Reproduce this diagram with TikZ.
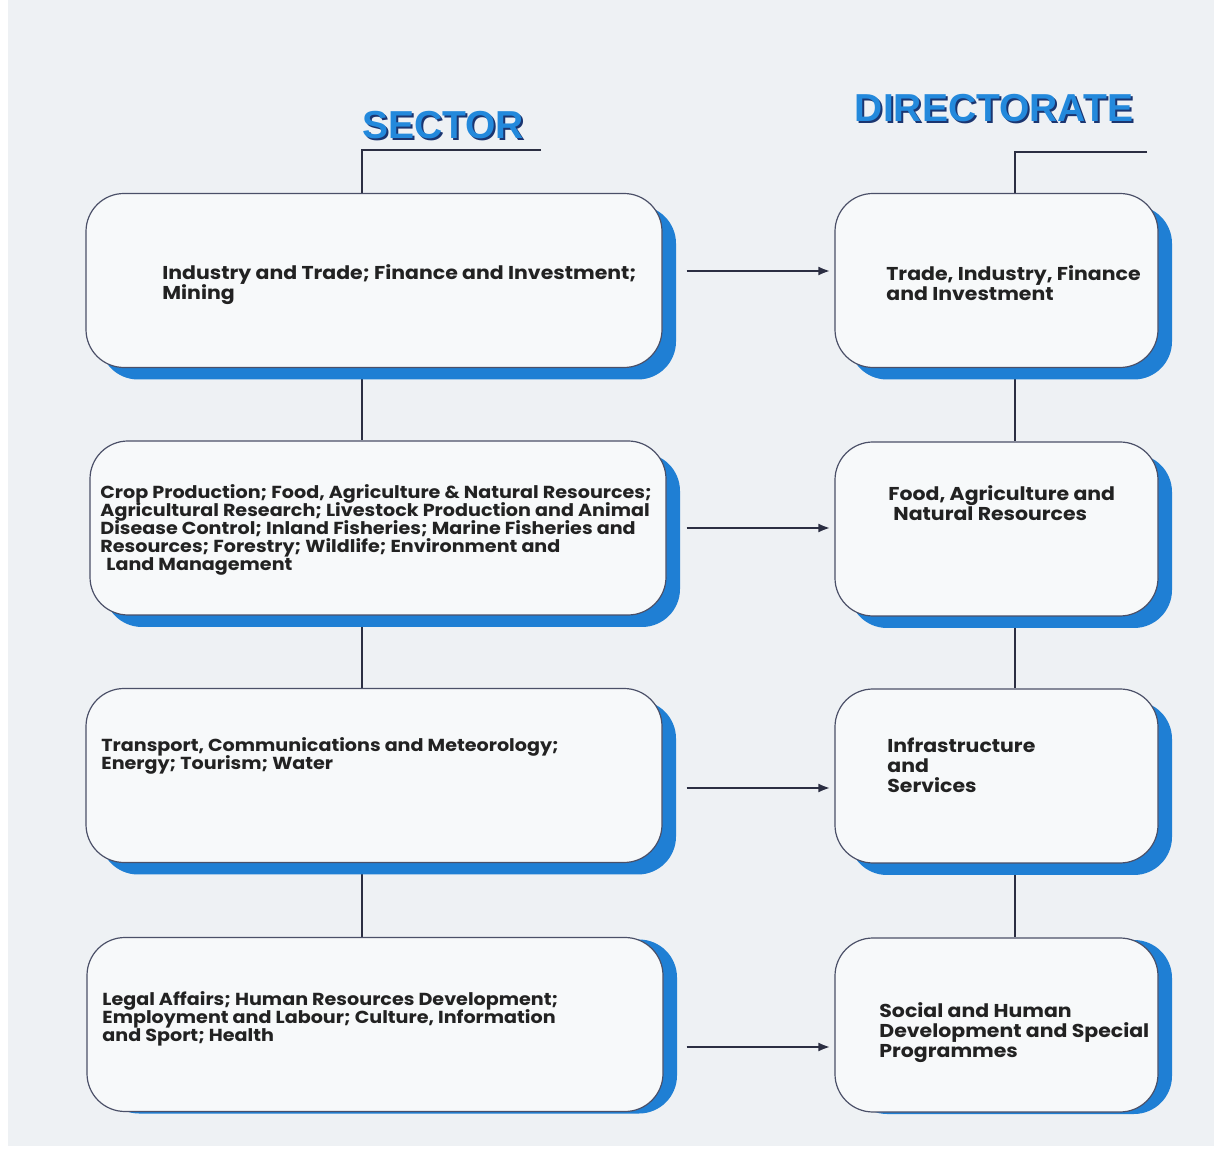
\documentclass[tikz,border=0pt]{standalone}
\usepackage{fontspec}
\setmainfont{Poppins}[FakeStretch=1.1]
\newfontfamily\titlefont{Liberation Sans}
\usetikzlibrary{shadows,arrows.meta,calc}
\pgfdeclarelayer{bg}
\pgfdeclarelayer{lines}
\pgfsetlayers{bg,lines,main}
\newcommand\mytightlines{\lineskiplimit=-20pt\relax\lineskip=0pt\relax}

\definecolor{paper}{HTML}{EEF1F4}
\definecolor{shblue}{HTML}{1F7FD4}
\definecolor{edge}{HTML}{4B5068}
\definecolor{wire}{HTML}{2B2E42}
\definecolor{titleblue}{HTML}{2389DC}
\definecolor{titleshadow}{HTML}{1B3570}
\definecolor{ink}{HTML}{222222}

\begin{document}
\begin{tikzpicture}[x=0.5pt,y=-0.5pt,
  boxbase/.style={rectangle, rounded corners=19pt, draw=edge, line width=0.6pt,
    fill=white!55!paper, inner sep=0pt, minimum height=87pt},
  deepshadow/.style={drop shadow={shadow xshift=7pt, shadow yshift=-6pt, fill=shblue, opacity=1}},
  flatshadow/.style={drop shadow={shadow xshift=7pt, shadow yshift=-1pt, fill=shblue, opacity=1}},
  sectorcard/.style={boxbase, minimum width=288pt},
  dircard/.style={boxbase, minimum width=161.5pt},
  txt/.style={anchor=north west, inner sep=0pt, align=left, text=ink,
    font=\mytightlines\fontsize{9.3}{10}\selectfont\bfseries},
  txttight/.style={txt, font=\mytightlines\fontsize{8.7}{9}\selectfont\bfseries},
  title/.style={inner sep=0pt, font=\titlefont\bfseries\fontsize{19.5}{20}\selectfont},
  wireline/.style={draw=wire, line width=1.2pt},
  arr/.style={wireline, -{Latex[length=6pt,width=4.5pt]}}
]
\useasboundingbox (0,0) rectangle (1222,1149);
\begin{pgfonlayer}{bg}
  \fill[white] (0,0) rectangle (1222,1149);
  \fill[paper] (8,0) rectangle (1214,1146);
\end{pgfonlayer}

% titles
\node[title, text=titleshadow] (secsh) at (445,127) {SECTOR};
\node[title, text=titleblue] (sec) at (443,125.5) {SECTOR};
\node[title, text=titleshadow] (dirsh) at (996,110) {DIRECTORATE};
\node[title, text=titleblue] (dir) at (994,108) {DIRECTORATE};

% sector boxes
\node[sectorcard, deepshadow] (s1) at (374,280.5) {};
\node[sectorcard, deepshadow] (s2) at (378,528) {};
\node[sectorcard, deepshadow] (s3) at (374,775.5) {};
\node[sectorcard, flatshadow] (s4) at (375,1024.5) {};

% directorate boxes
\node[dircard, deepshadow] (d1) at (996.5,280.5) {};
\node[dircard, deepshadow] (d2) at (996.5,529) {};
\node[dircard, deepshadow] (d3) at (996.5,776) {};
\node[dircard, flatshadow] (d4) at (996.5,1025) {};

% texts
\node[txt] (t1) at (162,264) {Industry and Trade; Finance and Investment;\\Mining};
\node[txttight] (t2) at (100,484) {Crop Production; Food, Agriculture \& Natural Resources;\\Agricultural Research; Livestock Production and Animal\\Disease Control; Inland Fisheries; Marine Fisheries and\\Resources; Forestry; Wildlife; Environment and\\\hspace{3pt}Land Management};
\node[txttight] (t3) at (101,737) {Transport, Communications and Meteorology;\\Energy; Tourism; Water};
\node[txttight] (t4) at (102,991) {Legal Affairs; Human Resources Development;\\Employment and Labour; Culture, Information\\and Sport; Health};
\node[txt] (u1) at (886,265) {Trade, Industry, Finance\\and Investment};
\node[txt] (u2) at (888,485) {Food, Agriculture and\\\hspace{2.5pt}Natural Resources};
\node[txt] (u3) at (887,738) {Infrastructure\\and\\Services};
\node[txt] (u4) at (879,1002) {Social and Human\\Development and Special\\Programmes};

% connectors
\coordinate (secend) at (541,150);
\coordinate (seccol) at (362,150);
\coordinate (dirend) at (1147,152);
\coordinate (dircol) at (1015,152);
\coordinate (a1) at ($(s1.east)+(24,-9.5)$);
\coordinate (a2) at ($(s2.east)+(20,0)$);
\coordinate (a3) at ($(s3.east)+(24,12.5)$);
\coordinate (a4) at ($(s4.east)+(23,22.5)$);

\begin{pgfonlayer}{lines}
  \draw[wireline] (secend) -- (seccol) -- (seccol |- s1.north);
  \draw[wireline] (seccol |- s1.south) -- (seccol |- s2.north);
  \draw[wireline] (seccol |- s2.south) -- (seccol |- s3.north);
  \draw[wireline] (seccol |- s3.south) -- (seccol |- s4.north);
  \draw[wireline] (dirend) -- (dircol) -- (dircol |- d1.north);
  \draw[wireline] (dircol |- d1.south) -- (dircol |- d2.north);
  \draw[wireline] (dircol |- d2.south) -- (dircol |- d3.north);
  \draw[wireline] (dircol |- d3.south) -- (dircol |- d4.north);
\end{pgfonlayer}
\draw[arr] (a1) -- ($(d1.west |- a1)+(-4,0)$);
\draw[arr] (a2) -- ($(d2.west |- a2)+(-4,0)$);
\draw[arr] (a3) -- ($(d3.west |- a3)+(-4,0)$);
\draw[arr] (a4) -- ($(d4.west |- a4)+(-4,0)$);
\end{tikzpicture}
\end{document}
